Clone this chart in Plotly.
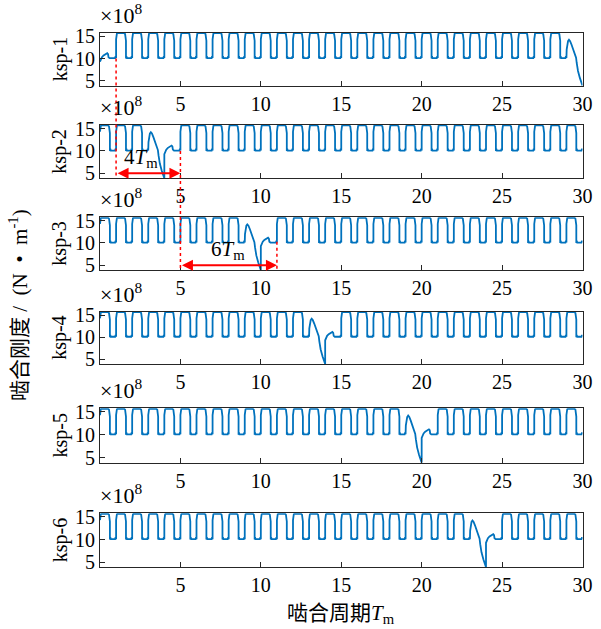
import plotly.graph_objects as go

# ---------------- data ----------------
N_CYCLES = 30
X_TICKS = [5, 10, 15, 20, 25, 30]
Y_TICKS = [5, 10, 15]
Y_RANGE = [3.9, 15.8]
X_RANGE = [0, 30]
PANEL_NAMES = ["ksp-1", "ksp-2", "ksp-3", "ksp-4", "ksp-5", "ksp-6"]
# mesh period (x, in T_m) at which each stiffness curve bottoms out
FAULT_AT = [[0, 30], [4], [10], [14], [20], [24]]

# one healthy mesh cycle (phase 0..1, values in 1e8 N/m)
NORMAL_PHASE = [0.0, 0.015, 0.05, 0.10, 0.50, 0.56, 0.60, 0.615, 0.615, 0.64, 0.67, 0.94, 0.97, 1.0]
NORMAL_VALUE = [14.3, 15.2, 15.6, 15.7, 15.7, 15.5, 14.8, 14.0, 10.0, 10.5, 10.1, 10.1, 10.5, 10.1]

# cycle just before the fault minimum
PRE_PHASE = [0.0, 0.015, 0.05, 0.10, 0.16, 0.23, 0.32, 0.42, 0.52, 0.60, 0.64, 0.72, 0.84, 0.96, 1.0]
PRE_VALUE = [10.2, 12.0, 13.3, 13.9, 14.2, 13.9, 13.1, 12.0, 10.9, 10.2, 9.0, 7.2, 5.6, 3.9, 3.9]

# cycle just after the fault minimum
POST_PHASE = [0.0, 0.05, 0.12, 0.22, 0.35, 0.45, 0.50, 0.53, 0.60, 0.94, 0.97, 1.0]
POST_VALUE = [9.3, 9.8, 10.3, 10.7, 11.0, 11.2, 11.0, 10.3, 10.1, 10.1, 10.5, 10.1]

# annotation data: dotted guide lines (x, from panel/value, to panel/value)
GUIDES = [(1, 0, 10.0, 1, Y_RANGE[0]), (5, 1, 10.0, 2, Y_RANGE[0]), (11, 2, 10.3, 2, Y_RANGE[0])]
# double arrows (panel, x0, x1, y) and their labels (panel, x, y, text)
ARROWS = [(1, 1, 5, 5.0), (2, 5, 11, 5.0)]
ARROW_LABELS = [(1, 1.35, 5.0, "4<i>T</i><sub>m</sub>"), (2, 6.8, 5.0, "6<i>T</i><sub>m</sub>")]

# ---------------- layout constants ----------------
W, H = 601, 629
X_PIX = (100, 582.5)
PANEL_PIX = [(32.7, 85.7), (125, 178.3), (217.3, 270), (311.7, 364), (408.3, 462.7), (513.3, 567.3)]
FONT = "Liberation Serif, Times New Roman, Noto Sans CJK SC, serif"
BLUE = "#0072BD"
AX_COLOR = "#262626"

xdom = [X_PIX[0] / W, X_PIX[1] / W]
ydoms = [[1 - b / H, 1 - t / H] for t, b in PANEL_PIX]


def build_curve(faults):
    xs, ys = [], []
    for k in range(N_CYCLES):
        if (k + 1) in faults:
            ph, val = PRE_PHASE, PRE_VALUE
        elif k in faults:
            ph, val = POST_PHASE, POST_VALUE
        else:
            ph, val = NORMAL_PHASE, NORMAL_VALUE
        xs += [k + p for p in ph]
        ys += list(val)
    return xs, ys


def to_paper(i, xv, yv):
    px = xdom[0] + (xv - X_RANGE[0]) / (X_RANGE[1] - X_RANGE[0]) * (xdom[1] - xdom[0])
    d = ydoms[i]
    py = d[0] + (yv - Y_RANGE[0]) / (Y_RANGE[1] - Y_RANGE[0]) * (d[1] - d[0])
    return px, py


fig = go.Figure()
layout = dict(
    width=W, height=H, margin=dict(l=0, r=0, t=0, b=0, autoexpand=False),
    paper_bgcolor="white", plot_bgcolor="white", showlegend=False,
    font=dict(family=FONT, size=20, color="black"),
)
annotations = []
shapes = []

for i, name in enumerate(PANEL_NAMES):
    sfx = "" if i == 0 else str(i + 1)
    xs, ys = build_curve(FAULT_AT[i])
    fig.add_trace(go.Scatter(x=xs, y=ys, mode="lines", line=dict(color=BLUE, width=1.8),
                             xaxis="x" + sfx, yaxis="y" + sfx, hoverinfo="skip"))
    layout["xaxis" + sfx] = dict(
        domain=xdom, range=X_RANGE, anchor="y" + sfx, tickvals=X_TICKS,
        ticks="inside", ticklen=5, tickcolor=AX_COLOR, showline=True, mirror=True,
        linecolor=AX_COLOR, linewidth=1, showgrid=False, zeroline=False,
        tickfont=dict(family=FONT, size=20, color="black"),
    )
    layout["yaxis" + sfx] = dict(
        domain=ydoms[i], range=Y_RANGE, anchor="x" + sfx, tickvals=Y_TICKS,
        ticks="inside", ticklen=5, tickcolor=AX_COLOR, showline=True, mirror=True,
        linecolor=AX_COLOR, linewidth=1, showgrid=False, zeroline=False,
        tickfont=dict(family=FONT, size=20, color="black"),
    )
    # panel label
    annotations.append(dict(text=name, textangle=-90, x=60 / W, y=(ydoms[i][0] + ydoms[i][1]) / 2,
                            xref="paper", yref="paper", xanchor="center", yanchor="middle",
                            showarrow=False, font=dict(family=FONT, size=20)))
    # exponent label
    annotations.append(dict(text="×10<sup>8</sup>", x=xdom[0] - 2 / W, y=ydoms[i][1] + 3 / H,
                            xref="paper", yref="paper", xanchor="left", yanchor="bottom",
                            showarrow=False, font=dict(family=FONT, size=22)))

# axis titles
annotations.append(dict(text="啮合刚度&nbsp;/&nbsp;&nbsp;(N&nbsp;&nbsp;•&nbsp;&nbsp;m<sup>-1</sup>)",
                        textangle=-90, x=18 / W, y=1 - 305 / H,
                        xref="paper", yref="paper", xanchor="center", yanchor="middle",
                        showarrow=False, font=dict(family=FONT, size=21)))
annotations.append(dict(text="啮合周期<i>T</i><sub>m</sub>", x=(xdom[0] + xdom[1]) / 2, y=1 - 614 / H,
                        xref="paper", yref="paper", xanchor="center", yanchor="middle",
                        showarrow=False, font=dict(family=FONT, size=21)))

# dotted guide lines
for xv, p0, v0, p1, v1 in GUIDES:
    xa, ya = to_paper(p0, xv, v0)
    xb, yb = to_paper(p1, xv, v1)
    shapes.append(dict(type="line", xref="paper", yref="paper", x0=xa, y0=ya, x1=xb, y1=yb,
                       line=dict(color="red", width=1.5, dash="dot"), layer="above"))

# double arrows
for p, x0, x1, yv in ARROWS:
    sfx = "" if p == 0 else str(p + 1)
    annotations.append(dict(x=x1, y=yv, ax=x0, ay=yv, xref="x" + sfx, yref="y" + sfx,
                            axref="x" + sfx, ayref="y" + sfx, text="", showarrow=True,
                            arrowhead=2, startarrowhead=2, arrowside="end+start",
                            arrowsize=1.1, startarrowsize=1.1, arrowwidth=2, arrowcolor="red",
                            standoff=0, startstandoff=0))
for p, xv, yv, txt in ARROW_LABELS:
    sfx = "" if p == 0 else str(p + 1)
    annotations.append(dict(text=txt, x=xv, y=yv, xref="x" + sfx, yref="y" + sfx,
                            xanchor="left", yanchor="bottom", showarrow=False,
                            font=dict(family=FONT, size=21)))

layout["annotations"] = annotations
layout["shapes"] = shapes
fig.update_layout(**layout)
fig.write_html("out.html")
